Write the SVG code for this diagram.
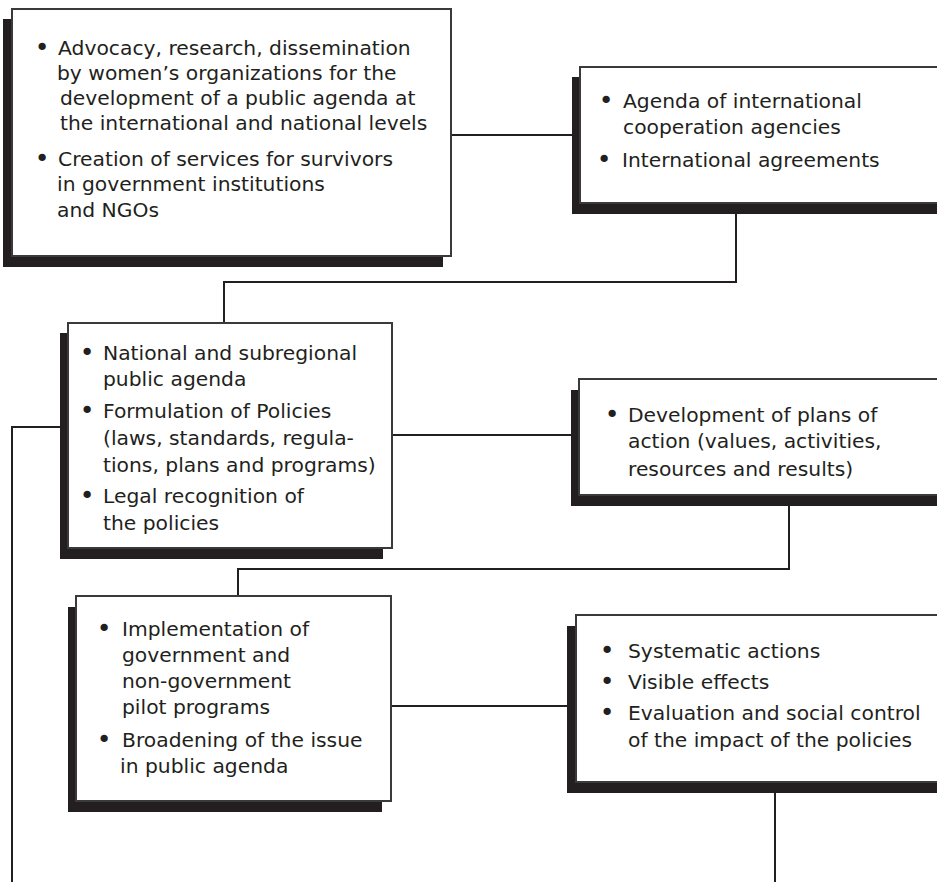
<svg xmlns="http://www.w3.org/2000/svg" width="937" height="882" viewBox="0 0 937 882">
<style>
.shadow{fill:#231f20}
.box{fill:#fff;stroke:#3a3a3a;stroke-width:2}
.conn{fill:none;stroke:#231f20;stroke-width:2}
text{font-family:"DejaVu Sans",Verdana,sans-serif;font-size:20.3px;fill:#231f20}
.b{text-anchor:middle;font-size:25px}
</style>
<rect width="937" height="882" fill="#fff"/>
<g id="connectors">
<path class="conn" d="M451,135 H572"/>
<path class="conn" d="M736,214 V282 H224 V323"/>
<path class="conn" d="M60,427 H12 V882"/>
<path class="conn" d="M392,435 H571"/>
<path class="conn" d="M789,506 V569 H238 V596"/>
<path class="conn" d="M391,706 H567"/>
<path class="conn" d="M775,793 V882"/>
</g>
<g id="node1">
<rect class="shadow" x="3" y="19" width="440" height="248"/>
<rect class="box" x="12" y="9" width="439" height="247"/>
<text class="b" x="42" y="56">•</text>
<text x="58" y="55">Advocacy, research, dissemination</text>
<text x="57" y="80">by women’s organizations for the</text>
<text x="60" y="105">development of a public agenda at</text>
<text x="60" y="130">the international and national levels</text>
<text class="b" x="42" y="167">•</text>
<text x="58" y="166">Creation of services for survivors</text>
<text x="57" y="191">in government institutions</text>
<text x="57" y="217">and NGOs</text>
</g>
<g id="node2">
<rect class="shadow" x="572" y="77" width="380" height="137"/>
<rect class="box" x="580" y="67" width="380" height="136"/>
<text class="b" x="606" y="109">•</text>
<text x="623" y="108">Agenda of international</text>
<text x="623" y="134">cooperation agencies</text>
<text class="b" x="604" y="168">•</text>
<text x="622" y="167">International agreements</text>
</g>
<g id="node3">
<rect class="shadow" x="60" y="333" width="323" height="226"/>
<rect class="box" x="68" y="323" width="324" height="225"/>
<text class="b" x="87" y="361">•</text>
<text x="103" y="360">National and subregional</text>
<text x="103" y="386">public agenda</text>
<text class="b" x="87" y="419">•</text>
<text x="103" y="418">Formulation of Policies</text>
<text x="103" y="445">(laws, standards, regula-</text>
<text x="103" y="472">tions, plans and programs)</text>
<text class="b" x="87" y="504">•</text>
<text x="103" y="503">Legal recognition of</text>
<text x="103" y="530">the policies</text>
</g>
<g id="node4">
<rect class="shadow" x="571" y="390" width="380" height="116"/>
<rect class="box" x="579" y="379" width="380" height="116"/>
<text class="b" x="612" y="423">•</text>
<text x="628" y="422">Development of plans of</text>
<text x="628" y="448">action (values, activities,</text>
<text x="628" y="476">resources and results)</text>
</g>
<g id="node5">
<rect class="shadow" x="68" y="607" width="314" height="205"/>
<rect class="box" x="76" y="596" width="315" height="205"/>
<text class="b" x="104" y="637">•</text>
<text x="122" y="636">Implementation of</text>
<text x="122" y="662">government and</text>
<text x="122" y="688">non-government</text>
<text x="122" y="714">pilot programs</text>
<text class="b" x="104" y="748">•</text>
<text x="122" y="747">Broadening of the issue</text>
<text x="120" y="773">in public agenda</text>
</g>
<g id="node6">
<rect class="shadow" x="567" y="626" width="380" height="167"/>
<rect class="box" x="576" y="615" width="380" height="167"/>
<text class="b" x="607" y="659">•</text>
<text x="628" y="658">Systematic actions</text>
<text class="b" x="607" y="690">•</text>
<text x="628" y="689">Visible effects</text>
<text class="b" x="607" y="721">•</text>
<text x="628" y="720">Evaluation and social control</text>
<text x="628" y="747">of the impact of the policies</text>
</g>
</svg>
